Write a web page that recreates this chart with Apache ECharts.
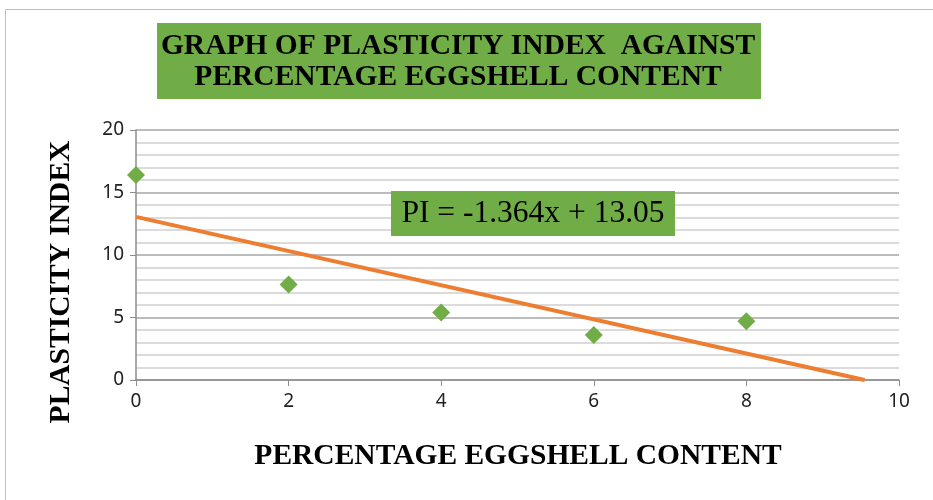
<!DOCTYPE html>
<html><head><meta charset="utf-8">
<script src="https://cdn.jsdelivr.net/npm/echarts@6/dist/echarts.min.js"></script>
<style>html,body{margin:0;padding:0;background:#fff}#c{width:933px;height:500px}</style>
</head><body><div id="c"></div>
<script>
const eggshell = [0, 2, 4, 6, 8];
const plasticityIndex = [16.4, 7.65, 5.4, 3.6, 4.7];
const trendX = [0, 9.55];
const trendY = [13.05, 0];
const titleLines = ['GRAPH OF PLASTICITY INDEX  AGAINST', 'PERCENTAGE EGGSHELL CONTENT'];
const equationText = 'PI = -1.364x + 13.05';
const xName = 'PERCENTAGE EGGSHELL CONTENT';
const yName = 'PLASTICITY INDEX';

const serifBold = {fontFamily: 'Liberation Serif', fontWeight: 'bold', fontSize: 29.5, fill: '#000'};
const chart = echarts.init(document.getElementById('c'));
chart.setOption({
  animation: false,
  graphic: [
    {type:'rect', shape:{x:5.5,y:9.5,width:940,height:500}, style:{fill:'none', stroke:'#bfbfbf', lineWidth:1}, silent:true, z:-1},
    {type:'rect', shape:{x:157,y:23,width:604,height:76}, style:{fill:'#70AD47'}, silent:true, z:10},
    {type:'text', x:458, y:46, z:11, style: Object.assign({text: titleLines[0], align:'center', verticalAlign:'middle'}, serifBold)},
    {type:'text', x:458, y:77.5, z:11, style: Object.assign({text: titleLines[1], align:'center', verticalAlign:'middle'}, serifBold)},
    {type:'rect', shape:{x:391,y:191,width:284,height:45}, style:{fill:'#70AD47'}, silent:true, z:10},
    {type:'text', x:533, y:214, z:11, style:{text: equationText, align:'center', verticalAlign:'middle', fontFamily:'Liberation Serif', fontSize:31.5, fill:'#000'}},
    {type:'text', x:518, y:456, z:11, style: Object.assign({text: xName, align:'center', verticalAlign:'middle'}, serifBold)},
    {type:'text', x:61, y:282, rotation: Math.PI/2, z:11, style: Object.assign({text: yName, align:'center', verticalAlign:'middle'}, serifBold)}
  ],
  grid: {left: 136, right: 34, top: 130, bottom: 120},
  xAxis: {
    type: 'value', min: 0, max: 10, interval: 2,
    axisLine: {show: true, lineStyle: {color: '#8c8c8c', width: 1.5}},
    axisTick: {show: true, length: 6, lineStyle: {color: '#8c8c8c'}},
    axisLabel: {fontFamily: 'Noto Sans', fontSize: 19, color: '#222', margin: 12},
    splitLine: {show: false}
  },
  yAxis: {
    type: 'value', min: 0, max: 20, interval: 5,
    axisLine: {show: true, lineStyle: {color: '#8c8c8c', width: 1.5}},
    axisTick: {show: true, length: 6, lineStyle: {color: '#8c8c8c'}},
    axisLabel: {fontFamily: 'Noto Sans', fontSize: 19, color: '#222', margin: 12},
    splitLine: {show: true, lineStyle: {color: '#a6a6a6', width: 1.5}},
    minorTick: {show: false, splitNumber: 5},
    minorSplitLine: {show: true, lineStyle: {color: '#d0d0d0', width: 1.5}}
  },
  series: [{
    type: 'line', data: trendX.map((x, i) => [x, trendY[i]]),
    showSymbol: false, symbol: 'none', lineStyle: {color: '#ED7D31', width: 4}, z: 3
  }, {
    type: 'scatter', data: eggshell.map((x, i) => [x, plasticityIndex[i]]),
    symbol: 'diamond', symbolSize: 18, itemStyle: {color: '#70AD47', opacity: 1}, z: 4
  }]
});
</script></body></html>
